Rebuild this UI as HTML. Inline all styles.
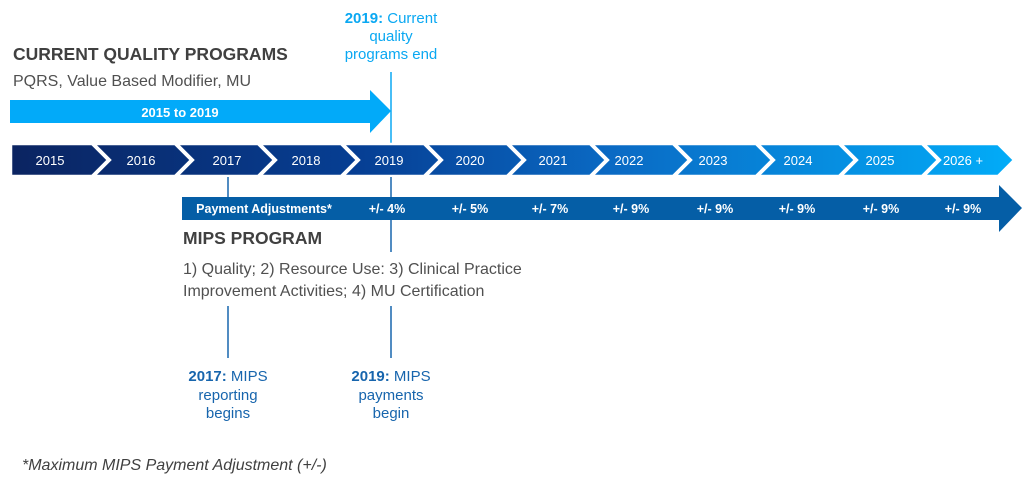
<!DOCTYPE html>
<html><head><meta charset="utf-8"><style>
html,body{margin:0;padding:0;background:#fff;width:1024px;height:477px;overflow:hidden}
text{font-family:"Liberation Sans",Arial,sans-serif}
</style></head><body>
<svg width="1024" height="477" viewBox="0 0 1024 477" xmlns="http://www.w3.org/2000/svg">
<defs>
<linearGradient id="g" x1="11" x2="1014" y1="0" y2="0" gradientUnits="userSpaceOnUse">
<stop offset="0" stop-color="#0b2461"/><stop offset="0.35" stop-color="#063f94"/><stop offset="0.6" stop-color="#0a6ac4"/><stop offset="1" stop-color="#02acf8"/>
</linearGradient>
</defs>
<text x="13" y="60" font-size="17.5" font-weight="bold" fill="#404040">CURRENT QUALITY PROGRAMS</text>
<text x="13" y="86" font-size="16" fill="#505050">PQRS, Value Based Modifier, MU</text>
<text x="391" y="23" font-size="15" fill="#0aa8f2" text-anchor="middle"><tspan font-weight="bold">2019:</tspan> Current</text>
<text x="391" y="41" font-size="15" fill="#0aa8f2" text-anchor="middle">quality</text>
<text x="391" y="59" font-size="15" fill="#0aa8f2" text-anchor="middle">programs end</text>
<polygon points="10,100 370,100 370,90 391,111 370,133 370,123 10,123" fill="#02aaf9"/>
<text x="180" y="117" font-size="13" font-weight="bold" fill="#fff" text-anchor="middle">2015 to 2019</text>
<line x1="391" y1="72" x2="391" y2="144" stroke="#0aa8f2" stroke-width="1.5"/>
<g fill="url(#g)" stroke="#fff" stroke-width="2.5" stroke-linejoin="miter">
<polygon points="11,144 92,144 108,160 92,176 11,176"/>
<polygon points="94,144 175,144 191,160 175,176 94,176 110,160"/>
<polygon points="177,144 258,144 274,160 258,176 177,176 193,160"/>
<polygon points="260,144 341,144 357,160 341,176 260,176 276,160"/>
<polygon points="343,144 424,144 440,160 424,176 343,176 359,160"/>
<polygon points="426,144 507,144 523,160 507,176 426,176 442,160"/>
<polygon points="509,144 590,144 606,160 590,176 509,176 525,160"/>
<polygon points="592,144 673,144 689,160 673,176 592,176 608,160"/>
<polygon points="675,144 756,144 772,160 756,176 675,176 691,160"/>
<polygon points="758,144 839,144 855,160 839,176 758,176 774,160"/>
<polygon points="841,144 922,144 938,160 922,176 841,176 857,160"/>
<polygon points="924,144 998,144 1014,160 998,176 924,176 940,160"/>
</g>
<g font-size="13" fill="#fff" text-anchor="middle">
<text x="50" y="165">2015</text><text x="141" y="165">2016</text><text x="227" y="165">2017</text>
<text x="306" y="165">2018</text><text x="389" y="165">2019</text><text x="470" y="165">2020</text>
<text x="553" y="165">2021</text><text x="629" y="165">2022</text><text x="713" y="165">2023</text>
<text x="798" y="165">2024</text><text x="880" y="165">2025</text><text x="963" y="165">2026 +</text>
</g>
<line x1="228" y1="177" x2="228" y2="200" stroke="#1765ad" stroke-width="1.5"/>
<line x1="391" y1="177" x2="391" y2="252" stroke="#1765ad" stroke-width="1.5"/>
<line x1="228" y1="306" x2="228" y2="358" stroke="#1765ad" stroke-width="1.5"/>
<line x1="391" y1="306" x2="391" y2="358" stroke="#1765ad" stroke-width="1.5"/>
<polygon points="182,197 999,197 999,185 1022,208 999,232 999,220 182,220" fill="#055ea6"/>
<g font-size="12.5" font-weight="bold" fill="#fff" text-anchor="middle">
<text x="264" y="213">Payment Adjustments*</text>
<text x="387" y="213">+/- 4%</text><text x="470" y="213">+/- 5%</text><text x="550" y="213">+/- 7%</text>
<text x="631" y="213">+/- 9%</text><text x="715" y="213">+/- 9%</text><text x="797" y="213">+/- 9%</text>
<text x="881" y="213">+/- 9%</text><text x="963" y="213">+/- 9%</text>
</g>
<text x="183" y="244" font-size="17.5" font-weight="bold" fill="#404040">MIPS PROGRAM</text>
<text x="183" y="274" font-size="16" fill="#505050">1) Quality; 2) Resource Use: 3) Clinical Practice</text>
<text x="183" y="296" font-size="16" fill="#505050">Improvement Activities; 4) MU Certification</text>
<g font-size="15" fill="#1765ad" text-anchor="middle">
<text x="228" y="381"><tspan font-weight="bold">2017:</tspan> MIPS</text>
<text x="228" y="400">reporting</text><text x="228" y="418">begins</text>
<text x="391" y="381"><tspan font-weight="bold">2019:</tspan> MIPS</text>
<text x="391" y="400">payments</text><text x="391" y="418">begin</text>
</g>
<text x="22" y="470" font-size="16" font-style="italic" fill="#404040">*Maximum MIPS Payment Adjustment (+/-)</text>
</svg>
</body></html>
